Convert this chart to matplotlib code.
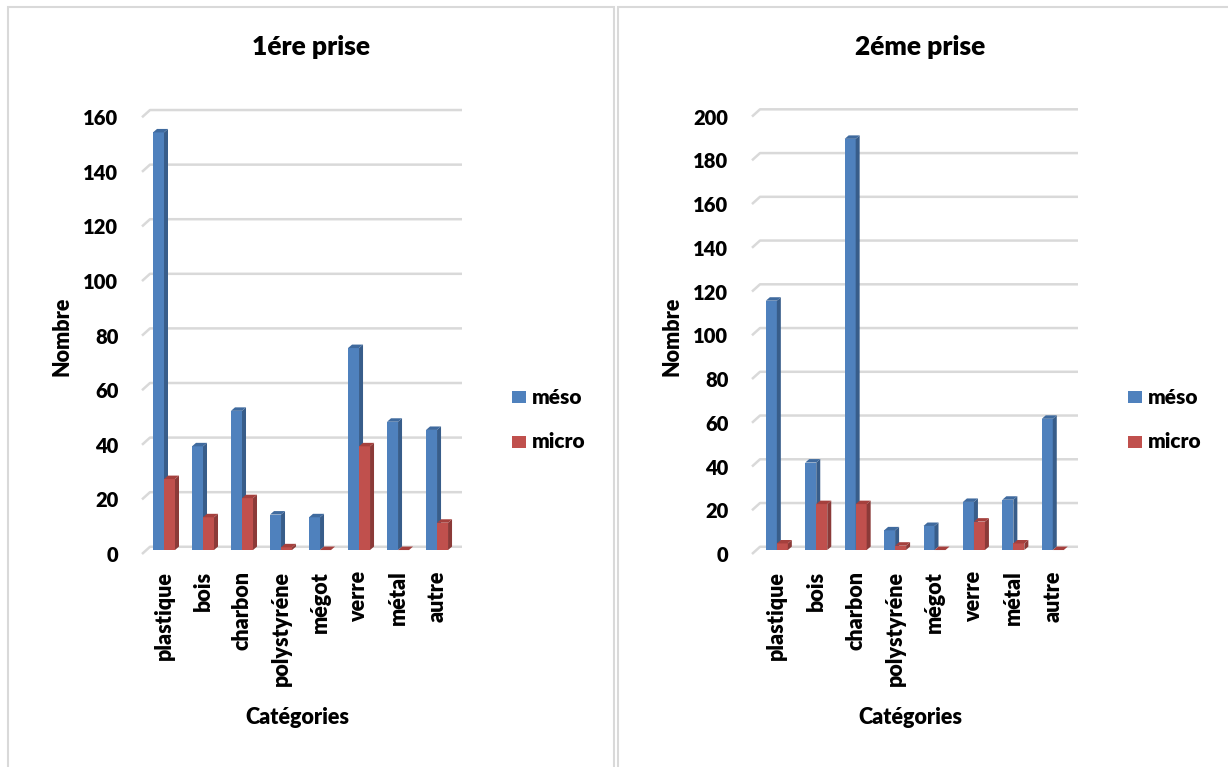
import matplotlib.pyplot as plt
from matplotlib.patches import Polygon, Rectangle
import numpy as np

plt.rcParams['font.family'] = ['Lato', 'DejaVu Sans']
plt.rcParams['font.weight'] = 'heavy'

W, H = 1228, 767

categories = ['plastique', 'bois', 'charbon', 'polystyréne', 'mégot', 'verre', 'métal', 'autre']
series_names = ['méso', 'micro']

meso_1 = [153, 38, 51, 13, 12, 74, 47, 44]
micro_1 = [26, 12, 19, 1, 0, 38, 0, 10]
meso_2 = [114, 40, 188, 9, 11, 22, 23, 60]
micro_2 = [3, 21, 21, 2, 0, 13, 3, 0]

# front / side / top shades for the pseudo-3D columns
BLUE = ('#4F81BD', '#385D8A', '#3F6A9E')
RED = ('#C0504D', '#8B3A38', '#A5403D')
GRID = '#D9D9D9'


def px(x, y):
    """pixel position -> figure fraction"""
    return x / W, 1 - y / H


def draw_bars(ax, xs, vals, left, w, dx, dy, shades, z):
    front, side, top = shades
    lefts = xs - w if left else xs
    ax.bar(lefts, vals, width=w, align='edge', color=front, zorder=z, linewidth=0)
    for x0, v in zip(lefts, vals):
        x1 = x0 + w
        ax.add_patch(Polygon([(x1, 0), (x1 + dx, dy), (x1 + dx, v + dy), (x1, v)],
                             closed=True, facecolor=side, edgecolor='none', zorder=z))
        ax.add_patch(Polygon([(x0, v), (x1, v), (x1 + dx, v + dy), (x0 + dx, v + dy)],
                             closed=True, facecolor=top, edgecolor='none', zorder=z))


def make_chart(rect, xlim, ymax, step, meso, micro, title, title_xy, ylab_xy, xlab_xy, leg_x):
    ax = fig.add_axes(rect)
    ax.set_xlim(*xlim)
    ax.set_ylim(0, ymax)
    ax.set_facecolor('none')
    for s in ax.spines.values():
        s.set_visible(False)

    k = ymax / (rect[3] * H)          # data units per pixel
    upx = (xlim[1] - xlim[0]) / (rect[2] * W)

    # gridlines with the little slanted side-wall segment
    x0 = xlim[0]
    for v in np.arange(0, ymax + 1, step):
        ax.plot([x0, x0 + 8 * upx, xlim[1]], [v - 4 * k, v + 3.3 * k, v + 3.3 * k],
                color=GRID, lw=1.8, zorder=1, clip_on=False, solid_capstyle='butt')

    xs = np.arange(len(categories))
    w = 11 * upx
    dx, dy = 4 * upx, 3.5 * k
    draw_bars(ax, xs, meso, True, w, dx, dy, BLUE, 2)
    draw_bars(ax, xs, micro, False, w, dx, dy, RED, 3)

    ticks = np.arange(0, ymax + 1, step)
    ax.set_yticks(ticks - 4 * k)
    ax.set_yticklabels([str(int(t)) for t in ticks])
    ax.set_xticks(xs)
    ax.set_xticklabels(categories, rotation=90, va='top', ha='center')
    ax.tick_params(axis='y', length=0, pad=17, labelsize=14.5)
    ax.tick_params(axis='x', length=0, pad=12, labelsize=15.5)

    fig.text(*px(*title_xy), title, ha='center', va='center', fontsize=19)
    fig.text(*px(*ylab_xy), 'Nombre', ha='center', va='center', rotation=90, fontsize=15.5)
    fig.text(*px(*xlab_xy), 'Catégories', ha='center', va='center', fontsize=15.5)

    # legend
    for name, col, y in zip(series_names, (BLUE[0], RED[0]), (397, 442)):
        lx, ly = px(leg_x, y + 6)
        fig.patches.append(Rectangle((lx, ly), 14 / W, 12 / H, transform=fig.transFigure,
                                     facecolor=col, edgecolor='none', figure=fig))
        fig.text(*px(leg_x + 20, y), name, ha='left', va='center', fontsize=15)
    return ax


fig = plt.figure(figsize=(W / 100, H / 100), dpi=100)

# panel frames
for x_a, x_b in ((8, 614), (618, 1240)):
    fx, fy = px(x_a, 790)
    fig.patches.append(Rectangle((fx, fy), (x_b - x_a) / W, (790 - 7) / H,
                                 transform=fig.transFigure, facecolor='none',
                                 edgecolor=GRID, lw=1.5, figure=fig))

bottom = 1 - 554 / H
make_chart([142 / W, bottom, 320 / W, (554 - 113.3) / H], (-0.564, 7.64), 160, 20,
           meso_1, micro_1, '1ére prise', (311, 47), (62, 336), (297, 717), 512)
make_chart([752 / W, bottom, 326 / W, (554 - 112.6) / H], (-0.63, 7.64), 200, 20,
           meso_2, micro_2, '2éme prise', (920, 47), (672, 336), (910, 717), 1128)

fig.savefig('out.png', dpi=100)
